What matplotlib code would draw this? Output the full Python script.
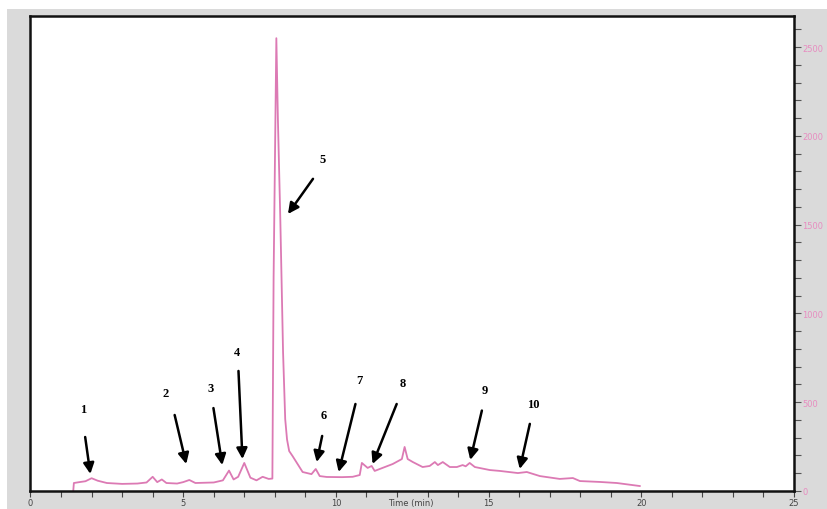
import matplotlib
matplotlib.use("Agg")
import matplotlib.pyplot as plt
from matplotlib.patches import Rectangle
from matplotlib.ticker import MultipleLocator

# Chromatogram trace (time in min, signal)
time_min = [1.40, 1.42, 1.60, 1.80, 2.00, 2.20, 2.50, 3.00, 3.50, 3.80, 4.00, 4.15, 4.30,
            4.45, 4.80, 5.00, 5.20, 5.40, 6.00, 6.30, 6.50, 6.65, 6.80, 7.00, 7.20, 7.40,
            7.60, 7.80, 7.92, 7.96, 8.05, 8.10, 8.18, 8.27, 8.34, 8.40, 8.47, 8.58, 8.91,
            9.20, 9.34, 9.47, 9.70, 10.20, 10.55, 10.78, 10.85, 11.04, 11.17, 11.27, 11.86,
            12.16, 12.25, 12.35, 12.52, 12.84, 13.07, 13.24, 13.34, 13.50, 13.73, 13.96,
            14.15, 14.25, 14.38, 14.55, 15.04, 15.37, 15.96, 16.25, 16.68, 17.33, 17.76,
            17.99, 18.64, 19.20, 19.95]
signal = [0, 45, 50, 55, 72, 58, 45, 40, 42, 48, 80, 50, 65,
          45, 42, 50, 62, 45, 48, 60, 115, 65, 80, 158, 75, 60,
          80, 68, 70, 1200, 2550, 2100, 1530, 780, 405, 290, 225, 197, 107,
          95, 124, 84, 79, 78, 80, 90, 158, 130, 141, 113, 152,
          180, 248, 180, 163, 135, 141, 163, 146, 163, 135, 135,
          146, 139, 158, 135, 118, 113, 101, 107, 84, 68, 73,
          56, 51, 45, 28]

# Peak labels with their label and arrow anchor points (data coords)
peak_labels = ["1", "2", "3", "4", "5", "6", "7", "8", "9", "10"]
label_pos = [(1.72, 460), (4.42, 550), (5.90, 580), (6.75, 780), (9.55, 1870),
             (9.60, 430), (10.78, 625), (12.19, 610), (14.88, 570), (16.45, 490)]
arrow_from = [(1.79, 304), (4.72, 428), (5.99, 467), (6.81, 676), (9.25, 1758),
              (9.55, 310), (10.64, 490), (11.99, 490), (14.78, 453), (16.35, 378)]
arrow_to = [(1.96, 96), (5.10, 152), (6.28, 146), (6.94, 180), (8.43, 1560),
            (9.37, 163), (10.09, 107), (11.20, 152), (14.40, 175), (16.02, 124)]

W, H = 828, 510
fig = plt.figure(figsize=(W / 100, H / 100), dpi=100, facecolor="white")
fig.patches.append(Rectangle((7 / W, 0), 1, (H - 10) / H, transform=fig.transFigure,
                             facecolor="#dadada", edgecolor="none", zorder=-10))

ax = fig.add_axes([30.5 / W, (H - 492) / H, (794 - 30.5) / W, (492 - 17) / H])
ax.set_facecolor("white")
ax.plot(time_min, signal, color="#dc7ab4", lw=1.3)

ax.set_xlim(0, 25)
ax.set_ylim(0, 2675)
for s in ax.spines.values():
    s.set_color("#111111")
    s.set_linewidth(1.8)

ax.xaxis.set_major_locator(MultipleLocator(5))
ax.xaxis.set_minor_locator(MultipleLocator(1))
ax.yaxis.set_major_locator(MultipleLocator(500))
ax.yaxis.set_minor_locator(MultipleLocator(100))
ax.yaxis.tick_right()
ax.tick_params(axis="x", which="both", direction="out", length=4, width=0.8,
               color="#444444", labelsize=6, labelcolor="#444444", pad=1)
ax.tick_params(axis="y", which="both", direction="out", length=5, width=0.8,
               color="#555555", labelsize=6, labelcolor="#e88cc0", pad=1)
fig.text(411 / W, 1.5 / H, "Time (min)", fontsize=6, color="#444444",
         ha="center", va="bottom")

for lab, lp, af, at in zip(peak_labels, label_pos, arrow_from, arrow_to):
    ax.text(lp[0], lp[1], lab, ha="center", va="center", fontsize=9,
            fontweight="bold", family="Liberation Serif", color="black")
    ax.annotate("", xy=at, xytext=af,
                arrowprops=dict(arrowstyle="-|>", color="black", lw=1.8,
                                mutation_scale=16, shrinkA=0, shrinkB=0))

fig.savefig("out.png", dpi=100)
